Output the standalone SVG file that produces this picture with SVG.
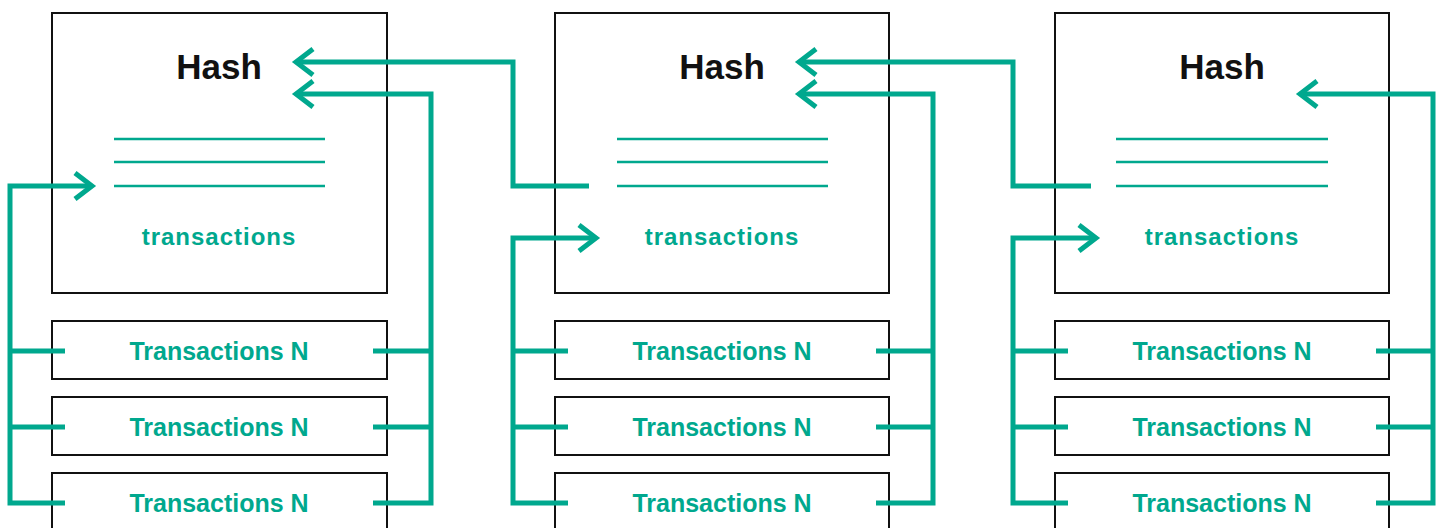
<svg xmlns="http://www.w3.org/2000/svg" width="1443" height="528" viewBox="0 0 1443 528">
<defs>
<style>
.blk{fill:#fff;stroke:#111;stroke-width:2}
.hash{font-family:"Liberation Sans",Arial,sans-serif;font-weight:700;font-size:35px;fill:#111;text-anchor:middle}
.tx{font-family:"Liberation Sans",Arial,sans-serif;font-weight:700;font-size:24px;letter-spacing:1px;fill:#00A88E;text-anchor:middle}
.txn{font-family:"Liberation Sans",Arial,sans-serif;font-weight:700;font-size:25px;fill:#00A88E;text-anchor:middle}
.ln{stroke:#00A88E;stroke-width:2.5;fill:none}
.con{stroke:#00A88E;stroke-width:5;fill:none;stroke-linejoin:miter}
.arr{marker-end:url(#chev)}
</style>
<marker id="chev" markerUnits="userSpaceOnUse" viewBox="-22 -17 28 34" refX="0" refY="0" markerWidth="28" markerHeight="34" orient="auto" overflow="visible">
<path d="M-17,-13 L0,0 L-17,13" fill="none" stroke="#00A88E" stroke-width="5"/>
</marker>
</defs>

<g id="block1">
<rect class="blk" x="52" y="13" width="335" height="280"/>
<text class="hash" x="219" y="79">Hash</text>
<line class="ln" x1="114" y1="139" x2="325" y2="139"/>
<line class="ln" x1="114" y1="162" x2="325" y2="162"/>
<line class="ln" x1="114" y1="186" x2="325" y2="186"/>
<text class="tx" x="219" y="245">transactions</text>
</g>
<g id="block1-tx1"><rect class="blk" x="52" y="321" width="335" height="58"/><text class="txn" x="219" y="360">Transactions N</text></g>
<g id="block1-tx2"><rect class="blk" x="52" y="397" width="335" height="58"/><text class="txn" x="219" y="436">Transactions N</text></g>
<g id="block1-tx3"><rect class="blk" x="52" y="473" width="335" height="60"/><text class="txn" x="219" y="512">Transactions N</text></g>

<g id="block2">
<rect class="blk" x="555" y="13" width="334" height="280"/>
<text class="hash" x="722" y="79">Hash</text>
<line class="ln" x1="617" y1="139" x2="828" y2="139"/>
<line class="ln" x1="617" y1="162" x2="828" y2="162"/>
<line class="ln" x1="617" y1="186" x2="828" y2="186"/>
<text class="tx" x="722" y="245">transactions</text>
</g>
<g id="block2-tx1"><rect class="blk" x="555" y="321" width="334" height="58"/><text class="txn" x="722" y="360">Transactions N</text></g>
<g id="block2-tx2"><rect class="blk" x="555" y="397" width="334" height="58"/><text class="txn" x="722" y="436">Transactions N</text></g>
<g id="block2-tx3"><rect class="blk" x="555" y="473" width="334" height="60"/><text class="txn" x="722" y="512">Transactions N</text></g>

<g id="block3">
<rect class="blk" x="1055" y="13" width="334" height="280"/>
<text class="hash" x="1222" y="79">Hash</text>
<line class="ln" x1="1116" y1="139" x2="1328" y2="139"/>
<line class="ln" x1="1116" y1="162" x2="1328" y2="162"/>
<line class="ln" x1="1116" y1="186" x2="1328" y2="186"/>
<text class="tx" x="1222" y="245">transactions</text>
</g>
<g id="block3-tx1"><rect class="blk" x="1055" y="321" width="334" height="58"/><text class="txn" x="1222" y="360">Transactions N</text></g>
<g id="block3-tx2"><rect class="blk" x="1055" y="397" width="334" height="58"/><text class="txn" x="1222" y="436">Transactions N</text></g>
<g id="block3-tx3"><rect class="blk" x="1055" y="473" width="334" height="60"/><text class="txn" x="1222" y="512">Transactions N</text></g>

<g id="connectors">
<!-- block 1 -->
<path class="con" d="M65,351 H10 M65,427 H10 M65,503 H10 V186 H92" marker-end="url(#chev)"/>
<path class="con" d="M373,351 H431 M373,427 H431 M373,503 H431 V94 H296" marker-end="url(#chev)"/>
<path class="con" d="M589,186 H513 V62 H296" marker-end="url(#chev)"/>
<!-- block 2 -->
<path class="con" d="M568,351 H513 M568,427 H513 M568,503 H513 V238 H596" marker-end="url(#chev)"/>
<path class="con" d="M876,351 H933 M876,427 H933 M876,503 H933 V94 H799" marker-end="url(#chev)"/>
<path class="con" d="M1091,186 H1013 V62 H799" marker-end="url(#chev)"/>
<!-- block 3 -->
<path class="con" d="M1068,351 H1013 M1068,427 H1013 M1068,503 H1013 V238 H1096" marker-end="url(#chev)"/>
<path class="con" d="M1376,351 H1433 M1376,427 H1433 M1376,503 H1433 V94 H1300" marker-end="url(#chev)"/>
</g>
</svg>
